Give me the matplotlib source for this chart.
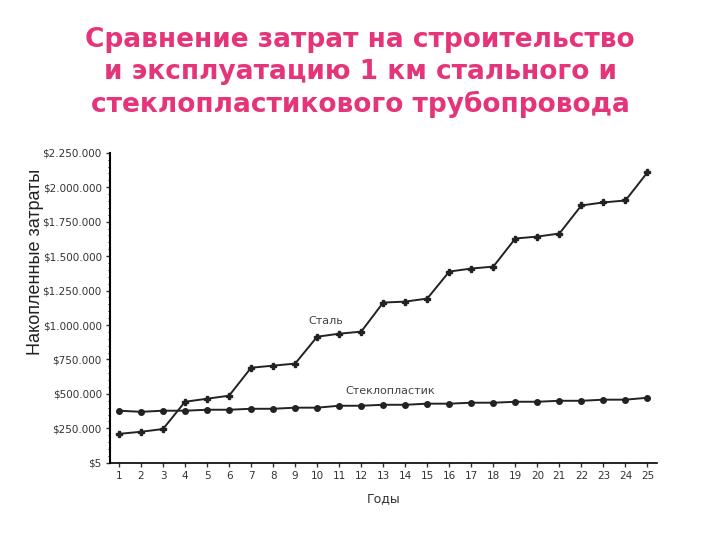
import matplotlib
matplotlib.use('Agg')
import matplotlib.pyplot as plt
from matplotlib.ticker import FuncFormatter, MultipleLocator

years = list(range(1, 26))
# накопленные затраты, $
steel = [210000, 225000, 245000, 443000, 465000, 487000, 690000, 705000, 720000,
         915000, 937000, 952000, 1163000, 1170000, 1192000, 1388000, 1410000, 1424000,
         1628000, 1642000, 1664000, 1868000, 1890000, 1904000, 2108000]
fiberglass = [378000, 370000, 378000, 378000, 385000, 385000, 392000, 392000, 400000,
              400000, 414000, 414000, 421000, 421000, 429000, 429000, 436000, 436000,
              443000, 443000, 450000, 450000, 458000, 458000, 472000]
title_lines = ['Сравнение затрат на строительство',
               'и эксплуатацию 1 км стального и',
               'стеклопластикового трубопровода']

fig = plt.figure(figsize=(7.2, 5.4), dpi=100)
ax = fig.add_axes([0.153, 0.143, 0.76, 0.574])

ax.plot(years, steel, color='#222222', lw=1.4, marker='P', ms=3.8)
ax.plot(years, fiberglass, color='#222222', lw=1.4, marker='o', ms=4)

ax.set_xlim(0.6, 25.45)
ax.set_ylim(0, 2250000)
ax.set_xticks(years)
ax.yaxis.set_major_locator(MultipleLocator(250000))
ax.yaxis.set_minor_locator(MultipleLocator(50000))


def money(v, pos):
    if v == 0:
        return '$5'
    return '$' + format(int(v), ',').replace(',', '.')


ax.yaxis.set_major_formatter(FuncFormatter(money))
narrow = ['Liberation Sans Narrow', 'DejaVu Sans']
for lab in ax.get_xticklabels() + ax.get_yticklabels():
    lab.set_family(narrow)
    lab.set_fontsize(7.5)
    lab.set_color('#333333')
ax.tick_params(axis='both', length=3, width=1, color='#333333', pad=3)
ax.tick_params(axis='y', which='minor', length=1.5)
ax.spines['top'].set_visible(False)
ax.spines['right'].set_visible(False)
ax.spines['left'].set_linewidth(1.5)
ax.spines['bottom'].set_linewidth(1.2)

ax.text(9.6, 1010000, 'Сталь', fontsize=8, color='#444444', family=narrow)
ax.text(11.3, 500000, 'Стеклопластик', fontsize=8, color='#444444', family=narrow)
ax.set_xlabel('Годы', fontsize=9, color='#333333', family=narrow, labelpad=8)

fig.text(0.05, 0.515, 'Накопленные затраты', rotation=90, ha='center', va='center',
         fontsize=13, color='#222222', family=['Liberation Sans', 'DejaVu Sans'])

for i, line in enumerate(title_lines):
    fig.text(0.5, 0.926 - i * 0.06, line, ha='center', va='center', fontsize=19,
             fontweight='bold', color='#e5357a')

fig.savefig('out.png', dpi=100, facecolor='white')
